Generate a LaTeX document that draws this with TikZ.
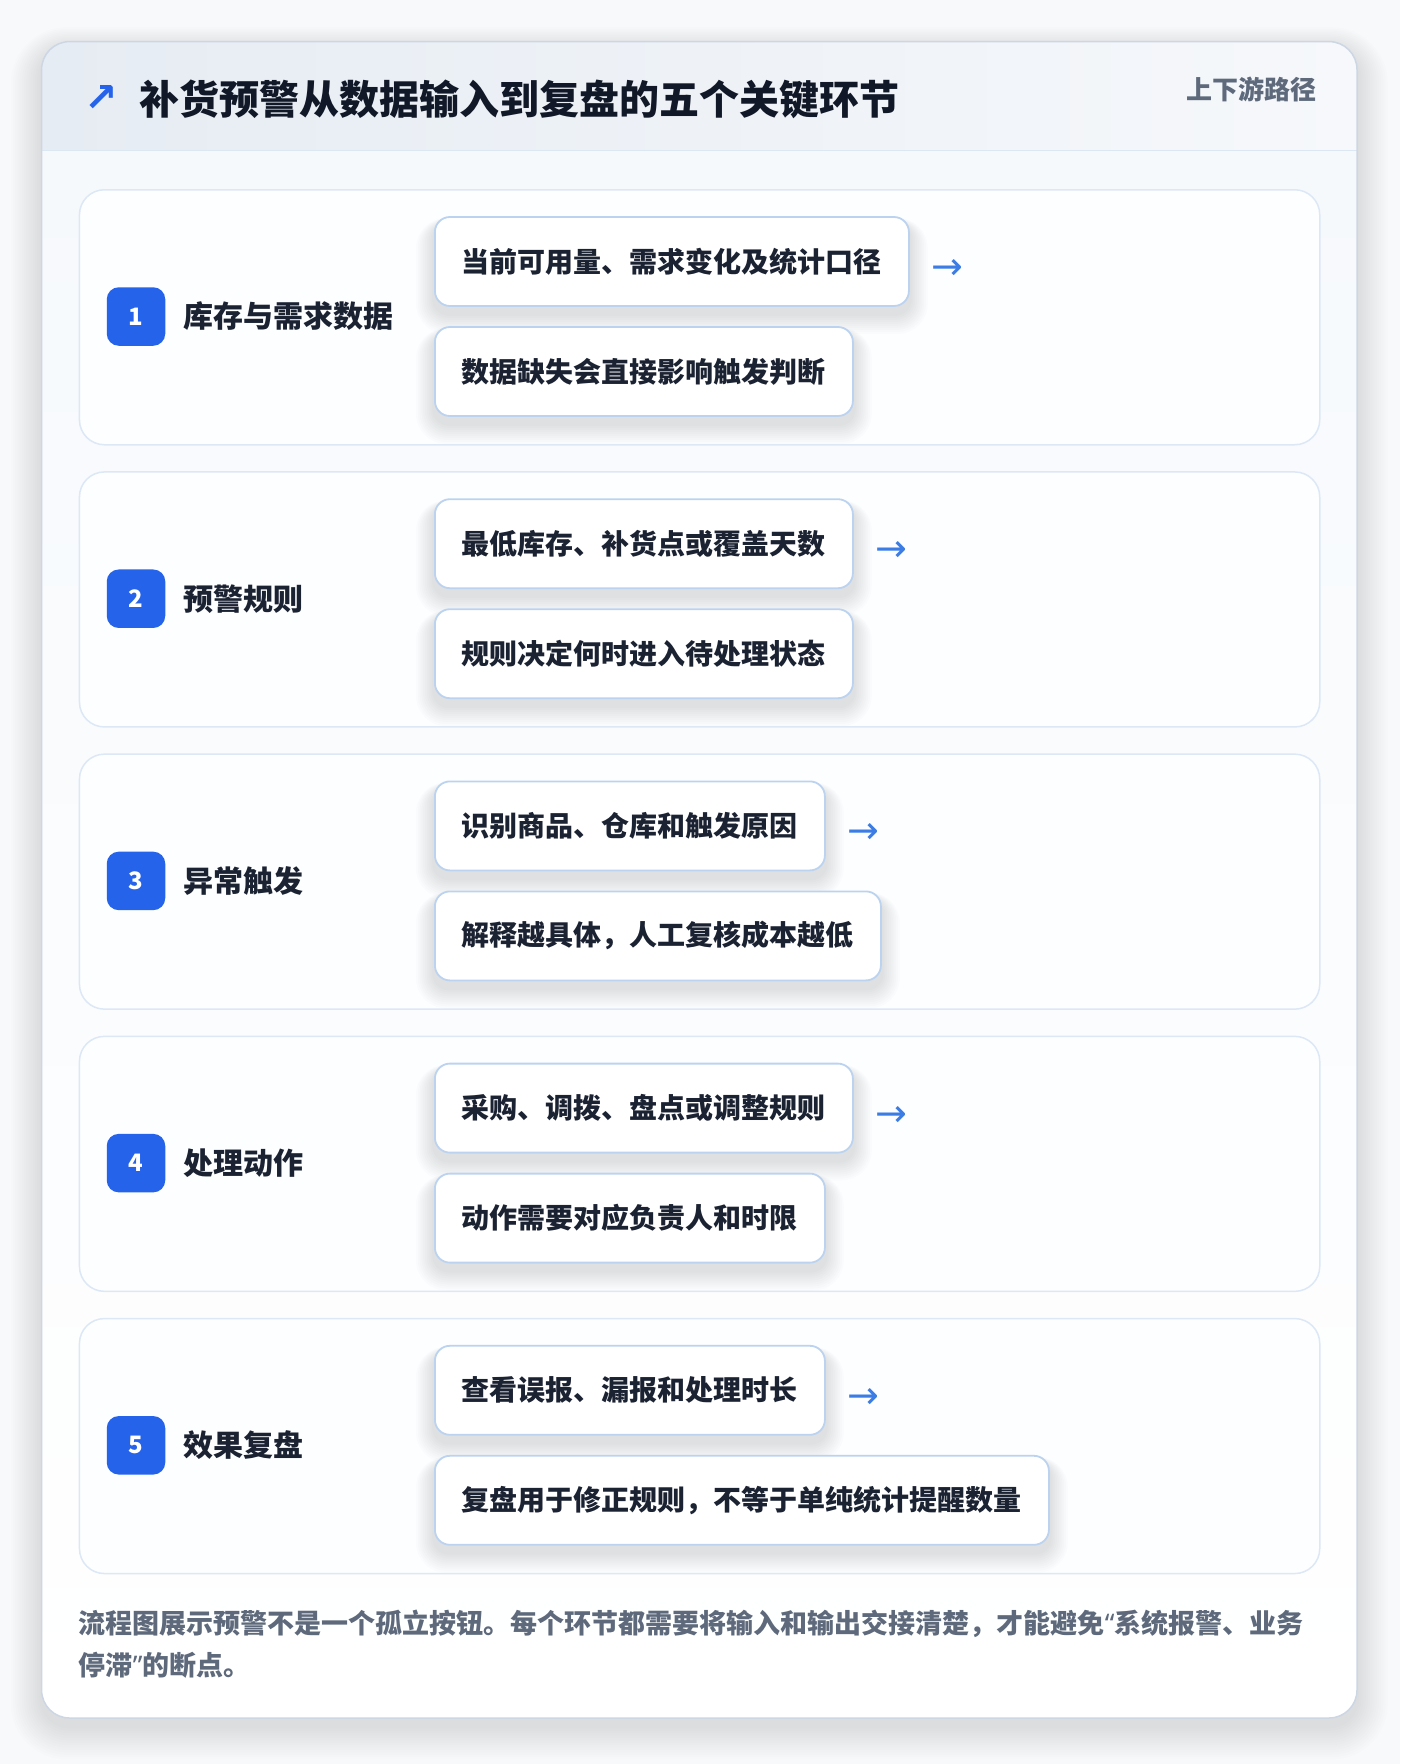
\documentclass[tikz,border=0pt]{standalone}
\usepackage{fontspec}
\setmainfont{Noto Sans CJK SC}
\newfontfamily\symf{DejaVu Sans}
\newfontfamily\latf{Noto Sans}
\definecolor{pagebg}{HTML}{F8F9FB}
\definecolor{cardB}{HTML}{CDD7E4}
\definecolor{hdrL}{HTML}{E6ECF3}
\definecolor{hdrR}{HTML}{F6F8FB}
\definecolor{hdrLine}{HTML}{DCE7F4}
\definecolor{bodyT}{HTML}{F6F9FC}
\definecolor{bodyB}{HTML}{FFFFFF}
\definecolor{panelB}{HTML}{DDE8F6}
\definecolor{panelF}{HTML}{FDFEFF}
\definecolor{boxB}{HTML}{BCD3F0}
\definecolor{badgeC}{HTML}{2563EB}
\definecolor{arrC}{HTML}{3B7DE4}
\definecolor{titleC}{HTML}{111827}
\definecolor{textC}{HTML}{1B2232}
\definecolor{grayT}{HTML}{5E6A7C}
\definecolor{shadowC}{HTML}{1E2A3C}
\pgfdeclarelayer{lzero}
\pgfdeclarelayer{lone}
\pgfdeclarelayer{ltwo}
\pgfsetlayers{lzero,lone,ltwo,main}
\tikzset{
  panel/.style={draw=panelB, line width=1.5pt, fill=panelF, rounded corners=25pt, inner sep=0pt},
  badge/.style={fill=badgeC, rounded corners=12pt, minimum size=58.5pt, inner sep=0pt, text=white, font=\bfseries\fontsize{24}{28}\selectfont},
  lab/.style={text=textC, inner sep=0pt, font=\bfseries\fontsize{30}{36}\selectfont},
  boxs/.style={draw=boxB, line width=1.8pt, fill=white, rounded corners=15pt, minimum height=89pt, inner xsep=27pt, inner ysep=0pt, text=textC, font=\bfseries\fontsize{28}{34}\selectfont},
  arr/.style={text=arrC, inner sep=0pt, font=\symf\fontsize{38}{44}\selectfont},
  softsh/.style={fill=shadowC, opacity=0.008},
  foot/.style={anchor=west, text=grayT, inner sep=0pt, font=\bfseries\fontsize{27}{32}\selectfont},
}
\newcommand{\qq}[1]{{\latf\bfseries #1}}
\begin{document}
\begin{tikzpicture}[x=1pt,y=-1pt]
\useasboundingbox (0,0) rectangle (1400,1764);
\begin{pgfonlayer}{lzero}
\fill[pagebg] (0,0) rectangle (1400,1764);
% card soft shadow
\foreach \k in {1,...,14}{
  \fill[softsh, rounded corners=28pt+\k*2pt] (41.6-\k*2.2, 41.6-\k*1.6+8) rectangle (1357+\k*2.2, 1718+\k*2.4+8);
}
\fill[white, rounded corners=28pt] (41.6,41.6) rectangle (1357,1718);
\begin{scope}
\clip[rounded corners=28pt] (41.6,41.6) rectangle (1357,1718);
\fill[left color=hdrL, right color=hdrR] (41.6,41.6) rectangle (1357,150.7);
\fill[top color=bodyT, bottom color=bodyB] (41.6,150.7) rectangle (1357,1718);
\end{scope}
\draw[hdrLine, line width=1.5pt] (41.6,150.7) -- (1357,150.7);
\draw[cardB, line width=1.5pt, rounded corners=28pt] (41.6,41.6) rectangle (1357,1718);
\end{pgfonlayer}
% header
\node[text=badgeC, inner sep=0pt, font=\symf\bfseries\fontsize{40}{44}\selectfont] (icon) at (101,99) {↗};
\node[anchor=west, text=titleC, inner sep=0pt, font=\bfseries\fontsize{40}{48}\selectfont] (title) at (139,99) {补货预警从数据输入到复盘的五个关键环节};
\node[anchor=east, text=grayT, inner sep=0pt, font=\bfseries\fontsize{26}{30}\selectfont] (sub) at (1317,89) {上下游路径};
% rows
\foreach \i/\lab/\ta/\tb in {
  1/库存与需求数据/当前可用量、需求变化及统计口径/数据缺失会直接影响触发判断,
  2/预警规则/最低库存、补货点或覆盖天数/规则决定何时进入待处理状态,
  3/异常触发/识别商品、仓库和触发原因/解释越具体，人工复核成本越低,
  4/处理动作/采购、调拨、盘点或调整规则/动作需要对应负责人和时限,
  5/效果复盘/查看误报、漏报和处理时长/复盘用于修正规则，不等于单纯统计提醒数量}{
  \pgfmathsetmacro\tp{189+282.2*(\i-1)}
  \begin{pgfonlayer}{lone}
  \node[panel, minimum width=1240.3pt, minimum height=255pt, anchor=north west] (row\i) at (78.7,\tp) {};
  \end{pgfonlayer}
  \node[badge] (badge\i) at (136,\tp+127.5) {\i};
  \node[lab, anchor=west] (lab\i) at (183,\tp+127.5) {\lab};
  \node[boxs, anchor=west] (boxa\i) at (434,\tp+72.5) {\ta};
  \node[boxs, anchor=west] (boxb\i) at (434,\tp+182.5) {\tb};
  \begin{pgfonlayer}{ltwo}
  \foreach \k in {1,...,10}{
    \fill[softsh, opacity=0.01, rounded corners=15pt+\k*1.5pt] ([shift={(-\k*1.8,-\k*0.5+7)}]boxa\i.north west) rectangle ([shift={(\k*1.8,\k*2+7)}]boxa\i.south east);
    \fill[softsh, opacity=0.01, rounded corners=15pt+\k*1.5pt] ([shift={(-\k*1.8,-\k*0.5+7)}]boxb\i.north west) rectangle ([shift={(\k*1.8,\k*2+7)}]boxb\i.south east);
  }
  \end{pgfonlayer}
  \node[arr, anchor=west] (arr\i) at ([xshift=21pt, yshift=-8pt]boxa\i.east) {→};
}
% footer
\node[foot] (foot1) at (78.7,1624) {流程图展示预警不是一个孤立按钮。每个环节都需要将输入和输出交接清楚，才能避免\qq{“}系统报警、业务};
\node[foot] (foot2) at (78.7,1665) {停滞\qq{”}的断点。};
\end{tikzpicture}
\end{document}
